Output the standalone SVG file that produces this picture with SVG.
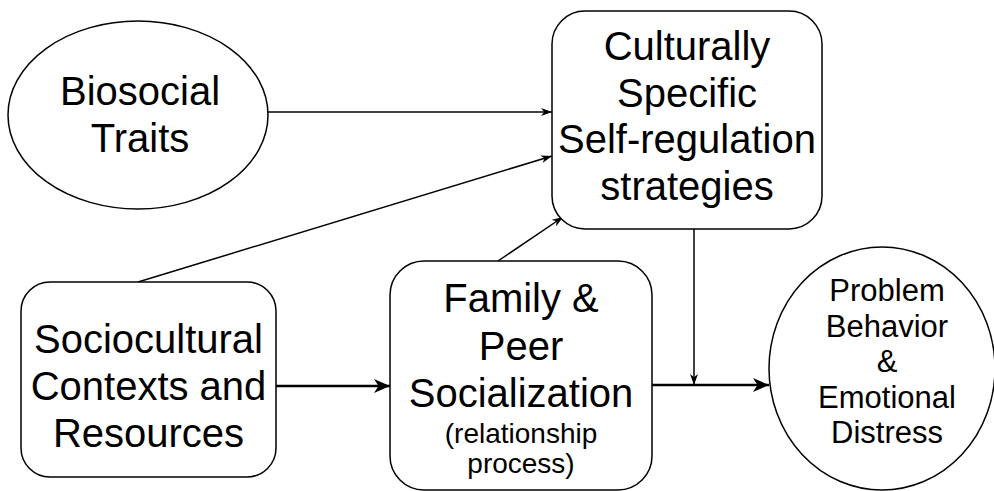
<svg xmlns="http://www.w3.org/2000/svg" width="994" height="491" viewBox="0 0 994 491">
  <style>
    .shape { fill: #ffffff; stroke: #000000; stroke-width: 1.5; }
    .big { font-family: "Liberation Sans", Arial, Helvetica, sans-serif; font-size: 40px; fill: #000000; text-anchor: middle; }
    .mid { font-family: "Liberation Sans", Arial, Helvetica, sans-serif; font-size: 31px; fill: #000000; text-anchor: middle; }
    .small { font-family: "Liberation Sans", Arial, Helvetica, sans-serif; font-size: 28px; fill: #000000; text-anchor: middle; }
    .edge { fill: none; stroke: #000000; stroke-width: 1.5; }
    .edge-bold { fill: none; stroke: #000000; stroke-width: 2.4; }
  </style>
  <defs>
    <marker id="arrow" viewBox="0 0 11 8" refX="11" refY="4" markerWidth="11" markerHeight="8" markerUnits="userSpaceOnUse" orient="auto">
      <path d="M0,0 L11,4 L0,8 L3.2,4 Z" fill="#000000"/>
    </marker>
    <marker id="arrow-bold" viewBox="0 0 16 14" refX="16" refY="7" markerWidth="16" markerHeight="14" markerUnits="userSpaceOnUse" orient="auto">
      <path d="M0,0 L16,7 L0,14 L4.5,7 Z" fill="#000000"/>
    </marker>
  </defs>
  <rect width="994" height="491" fill="#ffffff"/>

  <g id="connectors">
    <line class="edge" x1="268" y1="112" x2="552" y2="112" marker-end="url(#arrow)"/>
    <line class="edge" x1="138" y1="282" x2="552" y2="156" marker-end="url(#arrow)"/>
    <line class="edge" x1="498" y1="261" x2="563" y2="217" marker-end="url(#arrow)"/>
    <line class="edge" x1="694" y1="229" x2="694" y2="385" marker-end="url(#arrow)"/>
    <line class="edge-bold" x1="276" y1="386" x2="390" y2="386" marker-end="url(#arrow-bold)"/>
    <line class="edge-bold" x1="652" y1="385" x2="769" y2="385" marker-end="url(#arrow-bold)"/>
  </g>

  <g id="biosocial-traits">
    <ellipse class="shape" cx="138" cy="115" rx="130" ry="94"/>
    <text class="big" x="140" y="105">Biosocial</text>
    <text class="big" x="140" y="152">Traits</text>
  </g>

  <g id="self-regulation">
    <rect class="shape" x="552" y="11" width="270" height="218" rx="33" ry="33"/>
    <text class="big" x="687" y="60">Culturally</text>
    <text class="big" x="687" y="107">Specific</text>
    <text class="big" x="687" y="153">Self-regulation</text>
    <text class="big" x="687" y="200">strategies</text>
  </g>

  <g id="sociocultural-contexts">
    <rect class="shape" x="21" y="282" width="255" height="195" rx="29" ry="29"/>
    <text class="big" x="148.5" y="353">Sociocultural</text>
    <text class="big" x="148.5" y="400">Contexts and</text>
    <text class="big" x="148.5" y="447">Resources</text>
  </g>

  <g id="family-peer-socialization">
    <rect class="shape" x="390" y="261" width="262" height="229" rx="34" ry="34"/>
    <text class="big" x="521" y="312">Family &amp;</text>
    <text class="big" x="521" y="360">Peer</text>
    <text class="big" x="521" y="407">Socialization</text>
    <text class="small" x="521" y="443">(relationship</text>
    <text class="small" x="521" y="473">process)</text>
  </g>

  <g id="problem-behavior">
    <ellipse class="shape" cx="882" cy="368.5" rx="113" ry="121.5"/>
    <text class="mid" x="887" y="301">Problem</text>
    <text class="mid" x="887" y="336.5">Behavior</text>
    <text class="mid" x="887" y="372">&amp;</text>
    <text class="mid" x="887" y="407.5">Emotional</text>
    <text class="mid" x="887" y="443">Distress</text>
  </g>
</svg>
